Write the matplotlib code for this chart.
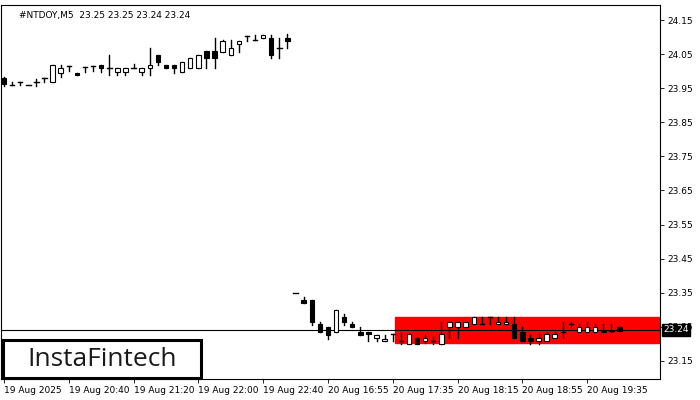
import matplotlib
matplotlib.use("Agg")
import matplotlib.pyplot as plt
from matplotlib.patches import Rectangle
import numpy as np

opens = [23.981,23.960,23.967,23.959,23.967,23.979,23.967,23.996,24.016,23.996,24.013,24.016,24.018,24.010,23.998,23.998,24.010,23.998,24.010,24.047,24.018,24.018,23.998,24.008,24.008,24.059,24.059,24.057,24.047,24.079,24.104,24.091,24.098,24.096,24.069,24.096,
         23.348,23.329,23.329,23.258,23.249,23.236,23.278,23.258,23.236,23.236,23.216,23.207,23.228,23.207,23.199,23.216,23.209,23.207,23.199,23.249,23.249,23.249,23.258,23.258,23.278,23.258,23.258,23.258,23.236,23.216,23.207,23.207,23.216,23.236,23.258,23.236,23.236,23.236,23.236,23.239,23.249]
highs = [23.984,23.969,23.967,23.959,23.977,23.979,24.018,24.018,24.016,23.996,24.013,24.016,24.018,24.047,24.008,24.008,24.020,24.008,24.067,24.047,24.018,24.018,24.026,24.038,24.047,24.059,24.096,24.091,24.091,24.088,24.104,24.106,24.106,24.106,24.096,24.108,
         23.348,23.337,23.329,23.265,23.249,23.300,23.288,23.265,23.249,23.236,23.226,23.226,23.228,23.231,23.228,23.216,23.226,23.221,23.265,23.265,23.265,23.265,23.278,23.278,23.278,23.278,23.278,23.278,23.249,23.226,23.229,23.236,23.236,23.265,23.265,23.258,23.265,23.258,23.258,23.258,23.249]
lows  = [23.957,23.960,23.959,23.959,23.957,23.969,23.967,23.984,24.000,23.989,23.998,24.000,23.998,23.989,23.989,23.989,24.010,23.989,23.989,24.018,24.008,23.996,23.998,24.008,24.008,24.008,24.008,24.057,24.047,24.057,24.088,24.091,24.096,24.038,24.038,24.067,
         23.348,23.319,23.256,23.236,23.213,23.236,23.255,23.249,23.226,23.207,23.207,23.207,23.207,23.200,23.199,23.199,23.202,23.200,23.199,23.216,23.216,23.249,23.258,23.258,23.258,23.258,23.258,23.216,23.207,23.200,23.200,23.216,23.226,23.216,23.249,23.236,23.236,23.236,23.236,23.236,23.242]
closes= [23.961,23.960,23.967,23.959,23.967,23.979,24.018,24.008,24.016,23.989,24.013,24.016,24.010,24.010,24.008,24.008,24.010,24.008,24.018,24.028,24.008,24.008,24.026,24.038,24.047,24.038,24.038,24.088,24.067,24.088,24.104,24.091,24.106,24.047,24.069,24.088,
         23.348,23.319,23.265,23.236,23.226,23.300,23.265,23.249,23.226,23.228,23.226,23.214,23.228,23.207,23.228,23.199,23.216,23.207,23.228,23.265,23.265,23.265,23.278,23.258,23.278,23.265,23.265,23.216,23.207,23.207,23.216,23.228,23.228,23.236,23.258,23.249,23.249,23.249,23.239,23.239,23.239]
yticks = [24.15,24.05,23.95,23.85,23.75,23.65,23.55,23.45,23.35,23.25,23.15]
xtick_pos = [0,8,16,24,32,40,48,56,64,72]
xtick_labels = ["19 Aug 2025","19 Aug 20:40","19 Aug 21:20","19 Aug 22:00","19 Aug 22:40",
                "20 Aug 16:55","20 Aug 17:35","20 Aug 18:15","20 Aug 18:55","20 Aug 19:35"]
zone_lo, zone_hi, zone_start = 23.203, 23.279, 48.3
current = 23.241

W, H = 700, 400
fig = plt.figure(figsize=(7,4), dpi=100)
ax = fig.add_axes([1/W, (H-379)/H, 659/W, 374/H])
ax.set_ylim(23.097, 24.194)
ax.set_xlim(-0.37, 81.0)
ax.add_patch(Rectangle((zone_start, zone_lo), 100, zone_hi-zone_lo, color='#ff0000', zorder=1))
ax.axhline(current, color='black', lw=0.8, zorder=2)
w = 0.55
for i,(o,h,l,c) in enumerate(zip(opens,highs,lows,closes)):
    ax.plot([i,i],[l,h], color='black', lw=1, zorder=3)
    bot, top = min(o,c), max(o,c)
    if top-bot < 0.002:
        ax.plot([i-w/2,i+w/2],[o,o], color='black', lw=1, zorder=4)
    else:
        ax.add_patch(Rectangle((i-w/2,bot), w, top-bot, facecolor='black' if c<o else 'white',
                               edgecolor='black', lw=0.8, zorder=4))
ax.yaxis.tick_right()
ax.set_yticks(yticks)
ax.set_yticklabels([f"{v:.2f}" for v in yticks], fontsize=6.5)
ax.set_xticks(xtick_pos)
ax.set_xticklabels(xtick_labels, fontsize=6.5, ha='left')
ax.tick_params(length=3, width=0.6, pad=2)
for s in ax.spines.values(): s.set_linewidth(0.8)
ax.text(0.028, 0.985, "#NTDOY,M5  23.25 23.25 23.24 23.24", transform=ax.transAxes, fontsize=6.5, va='top')
ax.text(81.4, current, "23.24", fontsize=6.5, color='white', va='center', ha='left',
        bbox=dict(facecolor='black', edgecolor='black', pad=1.2), clip_on=False)
fig.patches.append(Rectangle((3/W, (H-378)/H), 198/W, 38/H, transform=fig.transFigure,
                             facecolor='white', edgecolor='black', lw=2.2, zorder=10))
fig.text(102/W, (H-359)/H, "InstaFintech", fontsize=19, fontfamily='Open Sans', va='center', ha='center',
         color='#1a1a1a', zorder=11)
fig.savefig("out.png", dpi=100)
